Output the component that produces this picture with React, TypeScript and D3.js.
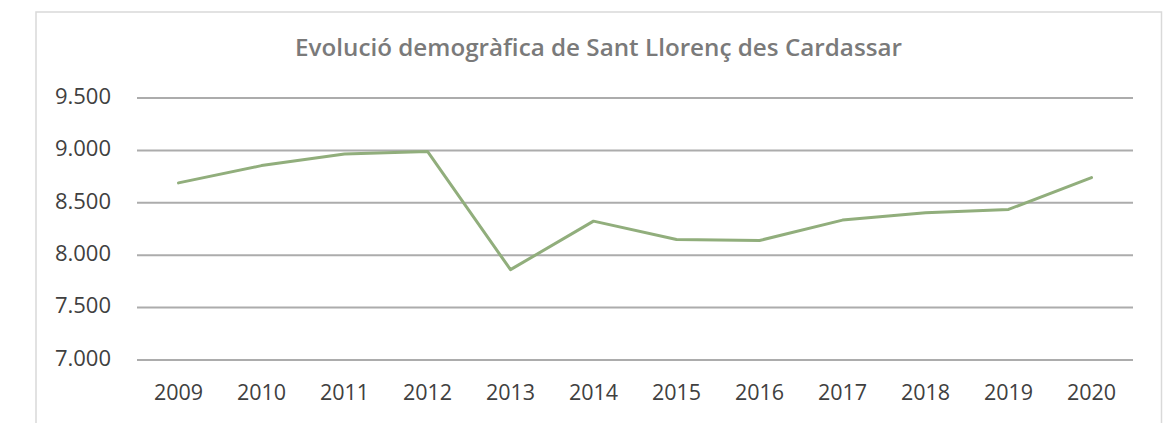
import React from "react";
import * as d3 from "d3";

const title = "Evolució demogràfica de Sant Llorenç des Cardassar";
const years = ["2009", "2010", "2011", "2012", "2013", "2014", "2015", "2016", "2017", "2018", "2019", "2020"];
const population = [8690, 8855, 8965, 8990, 7862, 8325, 8150, 8140, 8335, 8405, 8437, 8740];
const yTicks = [7000, 7500, 8000, 8500, 9000, 9500];

const W = 1170;
const H = 423;
const FONT = "'Open Sans', 'DejaVu Sans', sans-serif";

const locale = d3.formatLocale({ decimal: ",", thousands: ".", grouping: [3], currency: ["", "€"] });
const fmt = locale.format(",.0f");

export default function App() {
  const x = d3.scaleBand<string>().domain(years).range([137, 1133]);
  const y = d3.scaleLinear().domain([7000, 9500]).range([360, 98]);
  const line = d3
    .line<number>()
    .x((_, i) => (x(years[i]) as number) + x.bandwidth() / 2)
    .y((d) => y(d));

  return (
    <svg
      width={W}
      height={H}
      style={{ position: "absolute", left: 0, top: 0, background: "#fff" }}
      fontFamily={FONT}
    >
      <rect x={0} y={0} width={W} height={H} fill="#fff" />
      <rect x={36} y={12} width={1125.5} height={440} fill="#fff" stroke="#d9d9d9" strokeWidth={1.5} />
      <text
        x={598.5}
        y={50}
        textAnchor="middle"
        dominantBaseline="middle"
        fontSize={23}
        fill="#7a7a7a"
        fontWeight={600}
        textLength={607}
        lengthAdjust="spacingAndGlyphs"
      >
        {title}
      </text>
      {yTicks.map((t) => (
        <g key={t}>
          <line x1={137} x2={1133} y1={y(t)} y2={y(t)} stroke="#acacac" strokeWidth={2} />
          <text
            x={111}
            y={y(t)}
            textAnchor="end"
            dominantBaseline="middle"
            fontSize={22}
            fill="#404040"
          >
            {fmt(t)}
          </text>
        </g>
      ))}
      {years.map((yr) => (
        <text
          key={yr}
          x={(x(yr) as number) + x.bandwidth() / 2}
          y={394}
          textAnchor="middle"
          dominantBaseline="middle"
          fontSize={21.5}
          fill="#404040"
        >
          {yr}
        </text>
      ))}
      <path
        d={line(population) || ""}
        fill="none"
        stroke="#91ae7c"
        strokeWidth={3}
        strokeLinejoin="round"
        strokeLinecap="round"
      />
    </svg>
  );
}
